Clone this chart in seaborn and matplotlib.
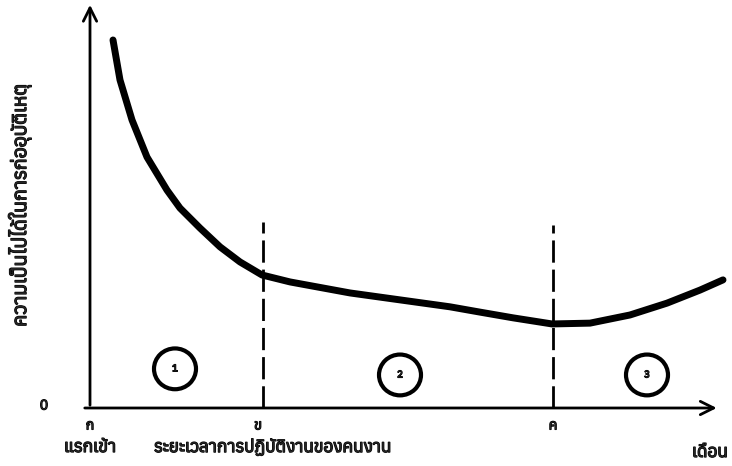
import matplotlib
matplotlib.use("Agg")
import matplotlib.pyplot as plt
import matplotlib.patheffects as pe
from matplotlib import font_manager
from matplotlib.ft2font import FT2Font
from matplotlib.patches import Ellipse
import seaborn as sns

# curve (x in months-like units, y in likelihood units)
curve_x = [0.62, 0.76, 1.00, 1.30, 1.70, 1.96, 2.36, 2.76, 3.16, 3.60, 4.16, 5.36, 6.36, 7.36,
           7.96, 8.62, 9.40, 10.16, 10.96, 11.70, 12.36, 12.82]
curve_y = [9.02, 8.04, 7.06, 6.15, 5.34, 4.90, 4.41, 3.95, 3.58, 3.26, 3.09, 2.82, 2.65, 2.48,
           2.35, 2.21, 2.06, 2.08, 2.28, 2.57, 2.89, 3.14]
phase_x = [3.62, 9.42]            # ข, ค boundaries
phase_top = [4.55, 4.48]
circle_x = [1.86, 6.36, 11.30]
circle_y = [0.96, 0.81, 0.81]
circle_labels = ["1", "2", "3"]
tick_x = [0.16, 3.52, 9.42]
tick_labels = ["ก", "ข", "ค"]

# pick an installed font that has Thai glyphs
thai_fonts = []
for f in font_manager.fontManager.ttflist:
    try:
        if ord("ก") in FT2Font(f.fname).get_charmap():
            thai_fonts.append(f.name)
    except Exception:
        pass
thai_fonts = sorted(set(thai_fonts))

sns.set_style("white")
plt.rcParams["font.family"] = thai_fonts[:1] + ["DejaVu Sans"]
heavy = [pe.withStroke(linewidth=0.9, foreground="black")]

fig = plt.figure(figsize=(7.32, 4.66), dpi=100)
ax = fig.add_axes([82 / 732, 58 / 466, 650 / 732, 408 / 466])
ax.set_xlim(0, 13)
ax.set_ylim(0, 10)
ax.axis("off")

line = sns.lineplot(x=curve_x, y=curve_y, ax=ax, color="black", lw=5.0, sort=False)
line.lines[0].set_solid_joinstyle("round")
for px, top in zip(phase_x, phase_top):
    ax.plot([px, px], [0, top], color="black", lw=2.0, ls=(0, (8, 2.5)))

# axes with arrows
ax.annotate("", xy=(12.75, 0), xytext=(0, 0),
            arrowprops=dict(arrowstyle="->", lw=2.0, color="black", mutation_scale=24))
ax.annotate("", xy=(0.16, 9.95), xytext=(0.16, 0),
            arrowprops=dict(arrowstyle="->", lw=2.0, color="black", mutation_scale=24))

for cx, cy, lab in zip(circle_x, circle_y, circle_labels):
    ax.add_patch(Ellipse((cx, cy), 0.84, 1.0, fill=False, lw=3.0, color="black"))
    ax.text(cx, cy, lab, ha="center", va="center", fontsize=7, fontweight="bold",
            path_effects=heavy)

for tx, lab in zip(tick_x, tick_labels):
    ax.text(tx, -0.28, lab, ha="center", va="top", fontsize=10, clip_on=False,
            path_effects=heavy)

fig.text(44 / 732, 1 - 406 / 466, "0", ha="center", va="center", fontsize=10, path_effects=heavy)
fig.text(90 / 732, 1 - 447 / 466, "แรกเข้า", ha="center", va="center", fontsize=12.5,
         path_effects=heavy)
fig.text(273 / 732, 1 - 447 / 466, "ระยะเวลาการปฏิบัติงานของคนงาน", ha="center", va="center",
         fontsize=12.4, path_effects=heavy)
fig.text(710 / 732, 1 - 452 / 466, "เดือน", ha="center", va="center", fontsize=12.5,
         path_effects=heavy)
fig.text(20 / 732, 1 - 205 / 466, "ความเป็นไปได้ในการก่ออุบัติเหตุ", ha="center", va="center",
         rotation=90, fontsize=14, path_effects=heavy)

fig.savefig("out.png", dpi=100)
